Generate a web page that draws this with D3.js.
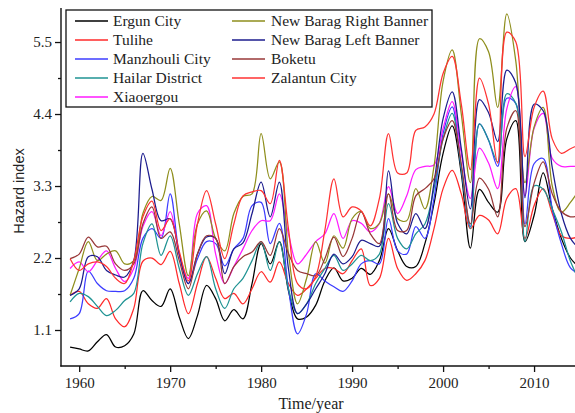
<!DOCTYPE html>
<html><head><meta charset="utf-8">
<script src="https://cdn.jsdelivr.net/npm/d3@7"></script>
<style>body{margin:0;background:#fff}svg{display:block}</style>
</head><body><svg id="c" width="575" height="413"></svg>
<script>
const years = [1959,1960,1961,1962,1963,1964,1965,1966,1967,1968,1969,1970,1971,1972,1973,1974,1975,1976,1977,1978,1979,1980,1981,1982,1983,1984,1985,1986,1987,1988,1989,1990,1991,1992,1993,1994,1995,1996,1997,1998,1999,2000,2001,2002,2003,2004,2005,2006,2007,2008,2009,2010,2011,2012,2013,2014,2015];

const ergun = [0.84,0.81,0.78,0.92,1.03,0.84,0.86,1.04,1.70,1.55, 1.46,1.73,1.30,0.97,1.32,1.78,1.58,1.24,1.41,1.27, 1.81,2.42,2.11,2.45,1.70,1.27,1.30,1.48,1.85,2.05, 1.85,1.89,2.04,1.95,2.16,2.65,2.31,2.07,2.07,2.42, 3.03,3.80,4.22,3.49,2.35,3.25,3.05,2.90,4.02,4.30, 2.45,2.85,3.50,2.95,2.50,2.20,2.05];
const tulihe = [1.63,1.69,1.50,1.43,1.58,1.27,1.15,1.43,2.15,2.20, 2.10,2.30,1.81,1.35,1.81,2.22,1.89,1.58,1.66,1.50, 1.73,1.99,1.83,2.14,1.81,1.63,1.73,1.89,2.04,2.04, 1.96,2.16,2.34,1.78,1.89,2.50,2.04,1.86,1.96,2.16, 2.65,3.26,3.54,3.18,2.65,2.85,2.78,2.57,3.11,3.26, 2.50,3.00,3.26,2.88,2.54,2.50,2.53];
const manzhouli = [1.27,1.35,2.00,1.81,1.70,1.69,1.70,1.89,2.50,2.65, 2.50,3.18,2.26,1.81,2.19,2.45,2.42,2.08,2.34,2.50, 3.00,3.05,2.42,2.73,1.73,1.04,1.35,1.96,1.85,1.76, 1.69,1.85,2.11,2.16,2.11,2.80,2.31,2.26,2.68,2.50, 3.11,4.10,4.51,3.57,2.68,4.25,4.00,3.60,4.64,4.56, 2.72,3.64,3.72,2.95,2.42,2.05,1.95];
const hailar = [1.53,1.66,1.61,1.46,1.32,1.40,1.55,1.66,2.42,2.72, 2.24,2.54,2.04,1.63,1.96,2.22,1.73,1.43,1.73,1.89, 2.16,2.45,2.01,2.45,1.73,1.35,1.50,1.81,2.04,2.24, 2.01,2.11,2.24,2.16,2.26,3.03,2.50,2.34,2.57,2.72, 3.26,4.02,4.41,3.57,2.65,4.25,4.00,3.67,4.71,4.56, 2.45,3.30,3.25,2.95,2.60,2.15,1.85];
const xiaoergou = [2.04,2.14,1.99,2.16,2.31,2.04,1.84,2.04,2.68,2.91, 2.54,2.91,2.26,1.89,2.88,3.00,2.26,1.81,2.07,2.34, 2.62,2.77,2.77,3.18,2.57,2.11,2.26,2.45,2.57,2.88, 2.50,2.77,2.73,2.60,2.73,3.29,2.88,3.15,3.55,3.60, 3.62,4.18,4.59,3.80,3.11,3.88,3.65,3.26,4.48,4.82, 3.15,4.18,4.41,3.72,3.60,3.60,3.60];
const nbRight = [1.63,2.04,2.45,2.16,2.26,2.31,2.11,2.16,2.88,3.14, 3.08,3.57,2.72,1.93,2.72,2.92,2.50,2.31,2.88,3.14, 3.18,4.10,3.41,3.67,2.27,1.50,1.89,2.45,2.12,2.54, 2.35,2.80,2.91,2.65,2.73,3.18,2.80,2.77,3.26,2.95, 3.60,4.90,5.38,4.40,3.35,5.55,5.35,4.50,5.93,5.20, 3.35,4.20,4.50,3.30,2.90,3.05,3.25];
const nbLeft = [1.63,1.73,2.22,2.22,2.01,1.94,1.91,2.16,3.80,3.25, 2.77,2.80,2.26,1.81,2.26,2.52,2.50,1.96,2.34,2.43, 2.88,3.36,2.83,3.36,2.04,1.35,1.50,1.73,1.96,2.26, 2.11,2.22,2.47,2.42,2.38,3.53,2.73,2.57,2.88,2.65, 3.34,4.33,4.74,3.87,2.95,4.62,4.42,3.98,5.07,4.87, 3.12,4.55,4.45,3.58,2.88,2.50,2.34];
const boketu = [2.19,2.26,2.52,2.37,2.38,2.11,2.01,2.11,2.72,2.98, 2.50,2.60,2.16,1.73,2.26,2.54,2.50,1.81,2.07,2.22, 2.29,2.45,2.24,2.65,2.27,2.01,1.96,1.93,2.19,2.52, 2.22,2.50,2.91,2.57,2.42,3.18,2.62,2.62,3.15,3.26, 3.41,4.02,4.30,3.64,2.72,3.42,3.25,2.83,4.18,4.45, 2.68,3.34,3.67,3.18,2.91,2.83,2.85];
const zalantun = [2.19,2.01,2.11,2.14,2.07,1.89,1.81,2.16,2.83,3.07, 2.62,2.80,2.30,1.85,2.72,3.23,2.72,2.19,2.72,3.15, 3.21,3.23,3.03,3.69,2.65,1.81,1.73,1.92,2.62,3.41, 2.83,2.98,2.92,2.69,3.11,4.10,3.50,3.50,4.15,4.20, 4.40,5.02,5.28,4.55,3.55,4.95,4.55,3.65,5.65,5.50, 3.75,4.50,4.75,4.02,3.80,3.87,3.93];

const seriesNames = ["Ergun City","Tulihe","Manzhouli City","Hailar District","Xiaoergou","New Barag Right Banner","New Barag Left Banner","Boketu","Zalantun City"];
const seriesValues = [ergun, tulihe, manzhouli, hailar, xiaoergou, nbRight, nbLeft, boketu, zalantun];
const seriesColors = ["#000000","#ff2a2a","#3c3cff","#1f9393","#ff1aff","#8e8e1c","#1c1c8e","#983838","#ff3232"];
const yTicks = [1.1, 2.2, 3.3, 4.4, 5.5];
const yMinor = [1.65, 2.75, 3.85, 4.95];
const xTicks = [1960, 1970, 1980, 1990, 2000, 2010];
const xMinor = [1965, 1975, 1985, 1995, 2005];

const svg = d3.select("#c");
const x = d3.scaleLinear().domain([1958, 2014.5]).range([61, 575]);
const y = d3.scaleLinear().domain([0.55, 6.0]).range([366, 9.3]);

svg.append("defs").append("clipPath").attr("id","plot")
  .append("rect").attr("x",61).attr("y",0).attr("width",514).attr("height",366);

const line = d3.line().x((d,i)=>x(years[i])).y(d=>y(d)).curve(d3.curveCatmullRom.alpha(0.5));
const g = svg.append("g").attr("clip-path","url(#plot)");
seriesValues.forEach((vals,k)=>{
  g.append("path").attr("d", line(vals)).attr("fill","none")
   .attr("stroke", seriesColors[k]).attr("stroke-width",1.25);
});

// axes
const serif = "'Liberation Serif','Times New Roman',serif";
svg.append("g").attr("transform","translate(61,0)")
  .call(d3.axisLeft(y).tickValues(yTicks).tickSize(6).tickPadding(3).tickFormat(d3.format(".1f")));
svg.append("g").attr("transform","translate(61,0)")
  .call(d3.axisLeft(y).tickValues(yMinor).tickSize(3).tickFormat(""));
svg.append("g").attr("transform","translate(0,366)")
  .call(d3.axisBottom(x).tickValues(xTicks).tickSize(6).tickPadding(5).tickFormat(d3.format("d")));
svg.append("g").attr("transform","translate(0,366)")
  .call(d3.axisBottom(x).tickValues(xMinor).tickSize(3).tickFormat(""));
svg.selectAll(".domain").remove();
svg.selectAll(".tick line").attr("stroke","#111").attr("stroke-width",1.3);
svg.selectAll(".tick text").attr("font-family",serif).attr("font-size",15).attr("fill","#222");

svg.append("line").attr("x1",61).attr("x2",61).attr("y1",8).attr("y2",366.6).attr("stroke","#111").attr("stroke-width",1.4);
svg.append("line").attr("x1",60.3).attr("x2",575).attr("y1",366).attr("y2",366).attr("stroke","#111").attr("stroke-width",1.4);

svg.append("text").attr("x",311).attr("y",409).attr("text-anchor","middle")
  .attr("font-family",serif).attr("font-size",16).attr("fill","#222").text("Time/year");
svg.append("text").attr("transform","translate(24,191) rotate(-90)").attr("text-anchor","middle")
  .attr("font-family","'Liberation Sans',Arial,sans-serif").attr("font-size",14.5).attr("fill","#222").text("Hazard index");

// legend
const lg = svg.append("g");
lg.append("rect").attr("x",66).attr("y",10).attr("width",366).attr("height",97)
  .attr("fill","#fff").attr("stroke","#111").attr("stroke-width",1.3);
seriesNames.forEach((name,k)=>{
  const col = k < 5 ? 0 : 1;
  const row = k < 5 ? k : k - 5;
  const cy = 21 + row * 19;
  const lx = col === 0 ? 75 : 232;
  const tx = col === 0 ? 113 : 271;
  lg.append("line").attr("x1",lx).attr("x2",lx+33).attr("y1",cy).attr("y2",cy)
    .attr("stroke",seriesColors[k]).attr("stroke-width",1.4);
  lg.append("text").attr("x",tx).attr("y",cy+5).attr("font-family",serif)
    .attr("font-size",15.5).attr("fill","#222").text(name);
});
</script></body></html>
